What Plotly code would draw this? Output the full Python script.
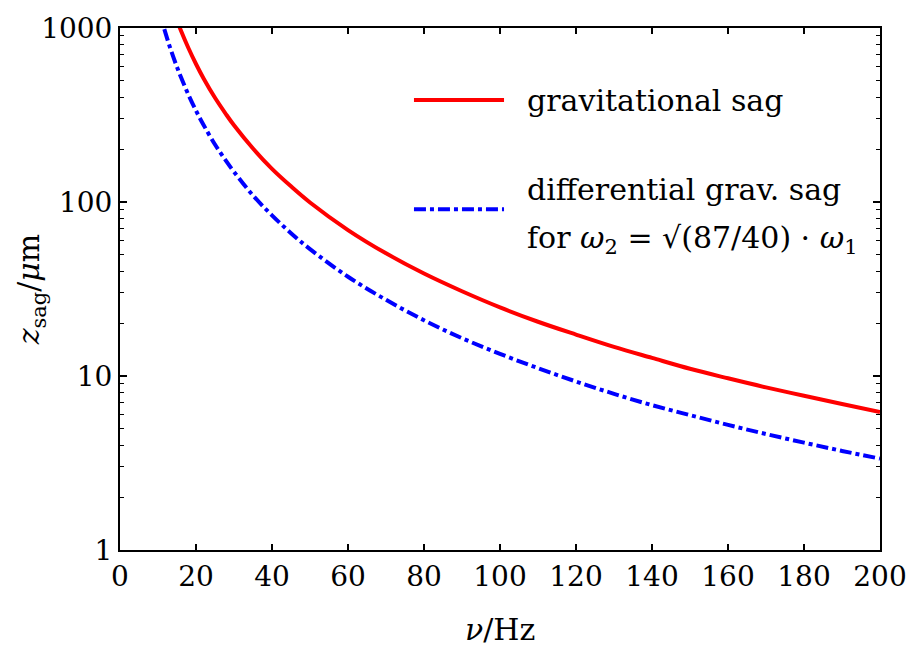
import plotly.graph_objects as go

# frequency (Hz)
nu_red = [15, 16, 18, 20, 22, 25, 28, 30, 35, 40, 45, 50, 60, 70, 80, 90, 100,
          110, 120, 130, 140, 150, 160, 170, 180, 190, 200]
sag_red = [1104, 970, 767, 621, 513, 397, 317, 276, 203, 155, 123, 99.4, 69.0,
           50.7, 38.8, 30.7, 24.8, 20.5, 17.3, 14.7, 12.7, 11.0, 9.7, 8.6, 7.7,
           6.9, 6.2]

nu_blue = [10, 11, 12, 13, 14, 15, 16, 18, 20, 22, 25, 28, 30, 35, 40, 45, 50,
           60, 70, 80, 90, 100, 110, 120, 130, 140, 150, 160, 170, 180, 190, 200]
sag_blue = [1340, 1108, 931, 793, 684, 596, 524, 414, 335, 277, 214, 171, 149,
            109, 83.8, 66.2, 53.6, 37.2, 27.4, 20.9, 16.5, 13.4, 11.1, 9.3,
            7.9, 6.8, 5.96, 5.24, 4.64, 4.14, 3.71, 3.35]

x_ticks = [0, 20, 40, 60, 80, 100, 120, 140, 160, 180, 200]
y_ticks = [1, 10, 100, 1000]
y_tick_text = ["1", "10", "100", "1000"]

FONT = "DejaVu Serif"

fig = go.Figure()
fig.add_trace(go.Scatter(x=nu_red, y=sag_red, mode="lines",
                         line=dict(color="#ff0000", width=4, shape="spline"),
                         name="gravitational sag", showlegend=False))
fig.add_trace(go.Scatter(x=nu_blue, y=sag_blue, mode="lines",
                         line=dict(color="#0000ff", width=4, dash="12px,4px,4px,4px",
                                   shape="spline"),
                         name="differential grav. sag", showlegend=False))

# manual legend
fig.add_shape(type="line", xref="paper", yref="paper", x0=0.3868, x1=0.5053,
              y0=0.862, y1=0.862, line=dict(color="#ff0000", width=4))
fig.add_shape(type="line", xref="paper", yref="paper", x0=0.3868, x1=0.5053,
              y0=0.653, y1=0.653,
              line=dict(color="#0000ff", width=4, dash="12px,4px,4px,4px"))
ann_font = dict(family=FONT, size=30, color="black")
fig.add_annotation(xref="paper", yref="paper", x=0.533, y=0.862, xanchor="left",
                   yanchor="middle", text="gravitational sag", showarrow=False,
                   font=ann_font)
fig.add_annotation(xref="paper", yref="paper", x=0.533, y=0.69, xanchor="left",
                   yanchor="middle", text="differential grav. sag", showarrow=False,
                   font=ann_font)
fig.add_annotation(xref="paper", yref="paper", x=0.533, y=0.594, xanchor="left",
                   yanchor="middle",
                   text="for <i>ω</i><sub>2</sub> = √(87/40) · <i>ω</i><sub>1</sub>",
                   showarrow=False, font=ann_font)

# axis titles
fig.add_annotation(xref="paper", yref="paper", x=0.5, y=-0.153, xanchor="center",
                   yanchor="middle", text="<i>ν</i>/Hz", showarrow=False,
                   font=ann_font)
fig.add_annotation(xref="paper", yref="paper", x=-0.118, y=0.5, xanchor="center",
                   yanchor="middle", text="<i>z</i><sub>sag</sub>/<i>μ</i>m",
                   textangle=-90, showarrow=False, font=ann_font)

fig.update_layout(
    width=911, height=655,
    margin=dict(l=120, r=31, t=28, b=105, autoexpand=False),
    paper_bgcolor="white", plot_bgcolor="white",
    font=dict(family=FONT, size=30, color="black"),
    xaxis=dict(range=[0, 200], tickvals=x_ticks, ticks="inside", ticklen=6,
               tickwidth=1.5, tickcolor="black", showline=True, linecolor="black",
               linewidth=2, mirror="ticks", showgrid=False, zeroline=False,
               automargin=False, tickfont=dict(size=28)),
    yaxis=dict(type="log", range=[0, 3], tickvals=y_ticks, ticktext=y_tick_text,
               ticks="inside", ticklen=7, tickwidth=1.5, tickcolor="black",
               showline=True, linecolor="black", linewidth=2, mirror="ticks",
               showgrid=False, zeroline=False, automargin=False,
               minor=dict(ticks="inside", ticklen=4, tickwidth=1, tickcolor="black",
                          dtick="D1", showgrid=False),
               tickfont=dict(size=28)),
)

fig.write_html("out.html")
